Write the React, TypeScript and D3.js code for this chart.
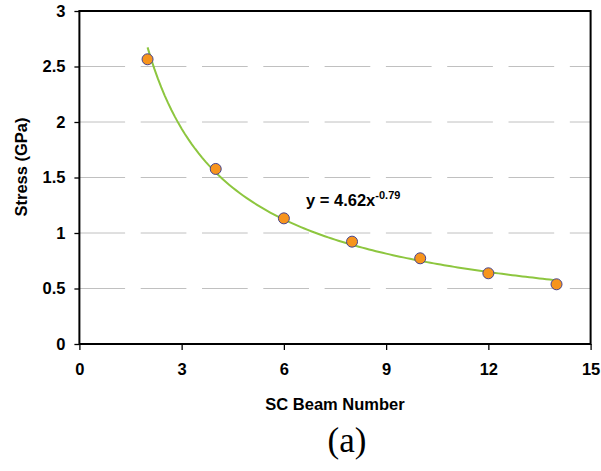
import React, {useEffect, useRef} from 'react';
import {scaleLinear, line, axisLeft, axisBottom, select, range} from 'd3';

// measured values from the figure
const beamNumbers = [2, 4, 6, 8, 10, 12, 14];
const stressGPa = [2.565, 1.577, 1.132, 0.922, 0.772, 0.637, 0.538];

// trendline shown in the figure: y = 4.62 x^-0.79
const fitCoef = 4.62;
const fitExp = -0.79;
const fitRange = [2, 14];

const xTicks = [0, 3, 6, 9, 12, 15];
const yTicks = [0, 0.5, 1, 1.5, 2, 2.5, 3];
const gridTicks = [0.5, 1, 1.5, 2, 2.5];

const W = 601;
const H = 471;
const margin = {t: 11, r: 10.4, b: 127, l: 79.4};
const innerW = W - margin.l - margin.r;
const innerH = H - margin.t - margin.b;

const boldFamily = 'Liberation Sans, Arial, sans-serif';
const labelFont = {
	fontFamily: boldFamily,
	fontWeight: 700,
	fontSize: '16.5px',
	fill: '#000'
};

const scaleX = scaleLinear().domain([0, 15]).range([0, innerW]);
const scaleY = scaleLinear().domain([0, 3]).range([innerH, 0]);

const trendLine = line<number>()
	.x(d => scaleX(d))
	.y(d => scaleY(fitCoef * Math.pow(d, fitExp)));

const trendXs = range(fitRange[0], fitRange[1] + 0.001, 0.1);

export default function App(){

	const xAxisRef = useRef<SVGGElement>(null);
	const yAxisRef = useRef<SVGGElement>(null);

	useEffect(() => {
		const ax = select(xAxisRef.current!)
			.call(axisBottom(scaleX).tickValues(xTicks).tickSize(6).tickPadding(13).tickFormat(d => String(d)));
		ax.select('.domain').remove();
		ax.selectAll('line').attr('stroke', '#000').attr('stroke-width', 1.3);
		ax.selectAll('text').style('font-family', boldFamily).style('font-weight', 700)
			.style('font-size', '16.5px').attr('fill', '#000');

		const ay = select(yAxisRef.current!)
			.call(axisLeft(scaleY).tickValues(yTicks).tickSize(5).tickPadding(9).tickFormat(d => String(d)));
		ay.select('.domain').remove();
		ay.selectAll('line').attr('stroke', '#000').attr('stroke-width', 1.3);
		ay.selectAll('text').style('font-family', boldFamily).style('font-weight', 700)
			.style('font-size', '16.5px').attr('fill', '#000');
	}, []);

	return (
		<svg width={W} height={H} style={{display: 'block', position: 'absolute', left: 0, top: 0, background: '#fff'}}>
			<g transform={`translate(${margin.l},${margin.t})`}>
				{gridTicks.map(t =>
					<line key={t} x1={0} x2={innerW} y1={scaleY(t)} y2={scaleY(t)}
						stroke='#c0c0c0' strokeWidth={1} strokeDasharray='45.7 15.6'/>
				)}
				<g ref={xAxisRef} transform={`translate(0,${innerH})`}/>
				<g ref={yAxisRef}/>
				<rect x={0} y={0} width={innerW} height={innerH} fill='none' stroke='#000' strokeWidth={2}/>
				<path d={trendLine(trendXs) || ''} fill='none' stroke='#8dc63f' strokeWidth={2}/>
				{beamNumbers.map((b, i) =>
					<circle key={b} cx={scaleX(b)} cy={scaleY(stressGPa[i])} r={5.5}
						fill='#f7941d' stroke='#45448f' strokeWidth={1}/>
				)}
				<text style={labelFont} x={scaleX(6.65)} y={scaleY(1.24)}>
					y = 4.62x<tspan style={{fontSize: '11px'}} dy={-7}>-0.79</tspan>
				</text>
			</g>
			<text style={labelFont} x={margin.l + innerW / 2} y={410} textAnchor='middle'>SC Beam Number</text>
			<text style={labelFont} transform={`translate(27,${167}) rotate(-90)`} textAnchor='middle'>Stress (GPa)</text>
			<text x={347} y={452} textAnchor='middle'
				style={{fontFamily: 'Liberation Serif, Times New Roman, serif', fontSize: '35px', fill: '#000'}}>(a)</text>
		</svg>
	);
}
